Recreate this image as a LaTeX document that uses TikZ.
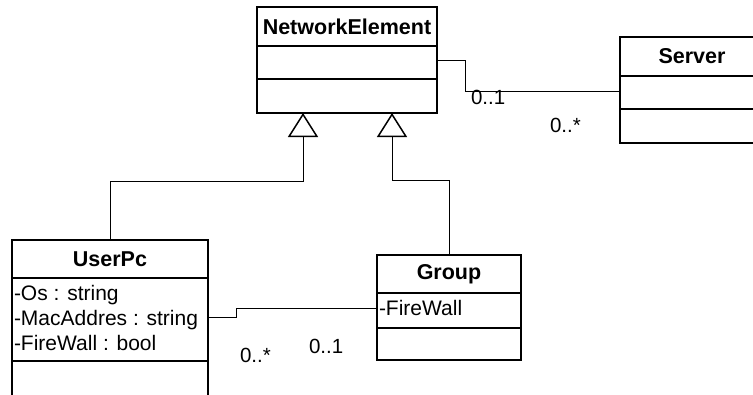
\documentclass[tikz,border=0pt]{standalone}
\usepackage{fontspec}
\setmainfont{Liberation Sans}
\usetikzlibrary{arrows.meta}
\tikzset{
  cbox/.style={draw, line width=1.5pt, inner sep=0pt, outer sep=0pt, anchor=north west,
    font=\fontsize{21.5}{25}\selectfont\bfseries},
  txt/.style={inner sep=0pt, outer sep=0pt, anchor=base west, font=\fontsize{21}{25}\selectfont},
  mult/.style={inner sep=0pt, outer sep=0pt, anchor=base west, font=\fontsize{20.5}{25}\selectfont},
  conn/.style={line width=0.9pt},
  gen/.style={line width=0.9pt, -{Triangle[open, length=24pt, width=30pt, line width=1.5pt]}},
}
\begin{document}
\begin{tikzpicture}[x=1pt,y=-1pt]
\useasboundingbox (0,0) rectangle (753,394);
% NetworkElement
\node[cbox, minimum width=180pt, minimum height=39pt] (ne1) at (257,7) {NetworkElement};
\node[cbox, minimum width=180pt, minimum height=33pt] (ne2) at (257,46) {};
\node[cbox, minimum width=180pt, minimum height=34pt] (ne3) at (257,79) {};
% Server
\node[cbox, minimum width=144pt, minimum height=39pt] (sv1) at (620,37) {Server};
\node[cbox, minimum width=144pt, minimum height=33pt] (sv2) at (620,76) {};
\node[cbox, minimum width=144pt, minimum height=34pt] (sv3) at (620,109) {};
% UserPc
\node[cbox, minimum width=196pt, minimum height=38pt] (uh) at (12,240) {UserPc};
\node[cbox, minimum width=196pt, minimum height=83pt] (ua) at (12,278) {};
\node[cbox, minimum width=196pt, minimum height=45pt] (uo) at (12,361) {};
\node[txt] (ua1) at (14,300) {-Os : string};
\node[txt] (ua2) at (14,325) {-MacAddres : string};
\node[txt] (ua3) at (14,350) {-FireWall : bool};
% Group
\node[cbox, minimum width=144pt, minimum height=38pt] (gh) at (377,255) {Group};
\node[cbox, minimum width=144pt, minimum height=35pt] (ga) at (377,293) {};
\node[cbox, minimum width=144pt, minimum height=32pt] (go) at (377,328) {};
\node[txt] (ga1) at (379,315) {-FireWall};
% Generalizations
\draw[gen] (uh.north) |- (303,181) -- ([xshift=-44pt]ne3.south);
\draw[gen] (gh.north) |- (392,180) -- ([xshift=45pt]ne3.south);
% Associations
\draw[conn] ([yshift=2pt]ne2.east) -- ++(28,0) |- ([yshift=1pt]sv2.west);
\draw[conn] ([yshift=2pt]ua.east) -- ++(28,0) |- ([yshift=2pt]ga.west);
% Multiplicities
\node[mult] (m1) at (471,104) {0..1};
\node[mult] (m2) at (550,132) {0..*};
\node[mult] (m3) at (240,362) {0..*};
\node[mult] (m4) at (309,353) {0..1};
\end{tikzpicture}
\end{document}
